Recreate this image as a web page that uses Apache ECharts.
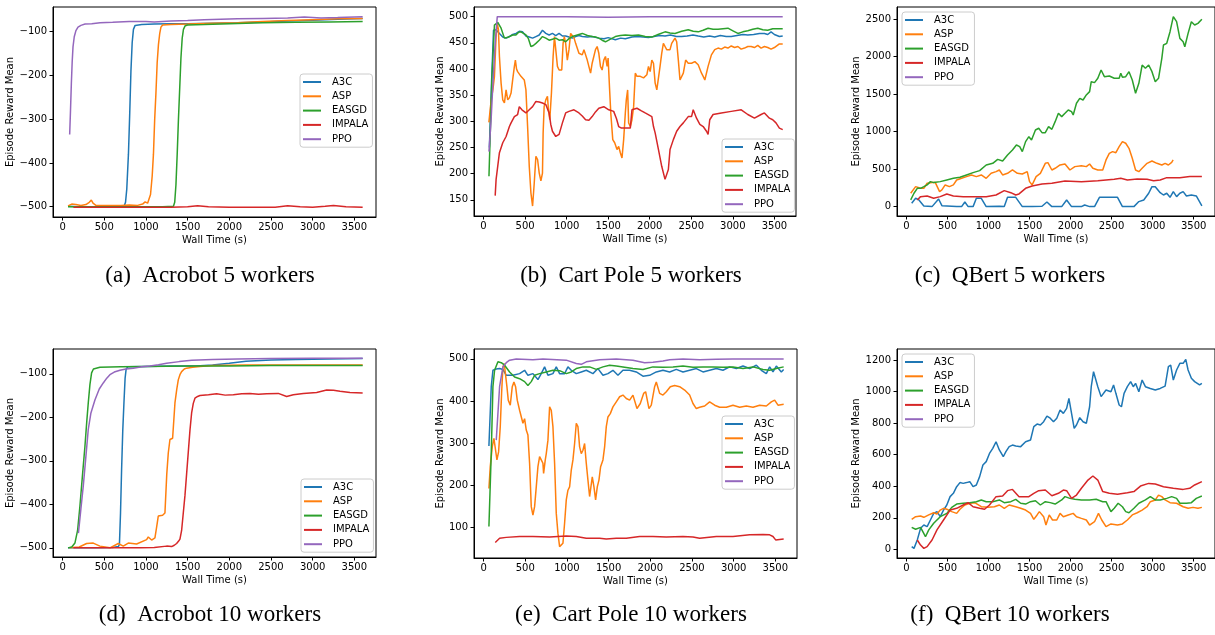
<!DOCTYPE html>
<html>
<head>
<meta charset="utf-8">
<script src="https://cdn.jsdelivr.net/npm/echarts@6/dist/echarts.min.js"></script>
<style>
  html, body { margin: 0; padding: 0; background: #fff; }
  #chart { width: 1215px; height: 635px; }
</style>
</head>
<body>
<div id="chart"></div>
<script>
// series names + matplotlib tab10 colours
const algoNames = ['A3C', 'ASP', 'EASGD', 'IMPALA', 'PPO'];
const algoColors = ['#1f77b4', '#ff7f0e', '#2ca02c', '#d62728', '#9467bd'];

// tick labels
const xTicks = [0, 500, 1000, 1500, 2000, 2500, 3000, 3500];
const acrobotTicks = [-500, -400, -300, -200, -100];
const cartPole5Ticks = [150, 200, 250, 300, 350, 400, 450, 500];
const cartPole10Ticks = [100, 200, 300, 400, 500];
const qbert5Ticks = [0, 500, 1000, 1500, 2000, 2500];
const qbert10Ticks = [0, 200, 400, 600, 800, 1000, 1200];

// (a) Acrobot 5 workers  [wall time, reward]
const acrobot5A3C = [[65,-499],[200,-500],[400,-500],[600,-499],[740,-498],[755,-490],[770,-460],[790,-380],[805,-290],[820,-190],[835,-125],[850,-95],[870,-86],[950,-84],[1100,-83],[1300,-82],[1500,-82],[1800,-81],[2100,-80],[2400,-78],[2700,-76],[3000,-74],[3300,-72],[3600,-70]];
const acrobot5ASP = [[65,-498],[110,-494],[160,-495],[220,-497],[280,-495],[320,-490],[345,-485],[365,-492],[400,-497],[500,-497],[600,-497],[700,-497],[800,-496],[900,-497],[960,-494],[990,-489],[1020,-492],[1040,-490],[1055,-472],[1075,-430],[1090,-380],[1105,-300],[1120,-240],[1135,-170],[1150,-130],[1165,-105],[1180,-90],[1200,-85],[1300,-84],[1500,-83],[1800,-81],[2100,-80],[2400,-77],[2700,-75],[3000,-73],[3300,-71],[3600,-70]];
const acrobot5EASGD = [[65,-500],[300,-500],[600,-500],[900,-500],[1200,-500],[1330,-499],[1345,-490],[1360,-450],[1375,-380],[1390,-300],[1405,-230],[1420,-160],[1435,-115],[1450,-95],[1470,-87],[1500,-85],[1700,-84],[2000,-82],[2400,-80],[2800,-79],[3200,-78],[3600,-77]];
const acrobot5IMPALA = [[130,-501],[400,-501],[700,-501],[1000,-501],[1300,-501],[1500,-500],[1620,-498],[1750,-500],[2000,-501],[2300,-501],[2550,-501],[2700,-498],[2850,-500],[3000,-501],[3150,-499],[3250,-497],[3400,-500],[3600,-501]];
const acrobot5PPO = [[85,-335],[95,-280],[105,-220],[115,-170],[125,-135],[140,-112],[160,-98],[185,-90],[220,-86],[270,-83],[350,-82],[450,-80],[600,-79],[800,-77],[1000,-77],[1100,-78],[1300,-76],[1500,-75],[1700,-73],[1900,-72],[2100,-71],[2400,-70],[2700,-69],[2900,-67],[3100,-69],[3300,-68],[3600,-66]];

// (b) Cart Pole 5 workers
const cartPole5A3C = [[70,250],[95,370],[120,474],[151,475],[191,468],[231,461],[271,459],[311,462],[351,466],[391,468],[430,472],[470,471],[510,463],[550,461],[590,459],[630,462],[670,465],[709,474],[749,468],[789,465],[829,468],[869,464],[909,468],[949,463],[988,463],[1028,461],[1068,459],[1108,462],[1148,464],[1188,462],[1250,461],[1307,462],[1387,459],[1450,458],[1500,460],[1586,456],[1650,459],[1706,458],[1786,461],[1850,462],[1920,461],[1985,460],[2050,462],[2120,464],[2184,463],[2250,465],[2320,462],[2384,462],[2450,463],[2520,465],[2583,463],[2650,461],[2720,463],[2782,461],[2850,464],[2920,462],[2981,462],[3050,464],[3120,466],[3180,465],[3250,466],[3320,468],[3380,468],[3420,466],[3460,471],[3500,466],[3560,462],[3600,463]];
const cartPole5ASP = [[64,298],[92,341],[112,360],[131,386],[151,462],[163,489],[179,475],[191,424],[211,373],[231,341],[251,335],[271,360],[291,341],[311,345],[331,354],[351,380],[371,405],[383,417],[397,400],[410,395],[430,392],[450,386],[470,383],[490,379],[510,360],[530,290],[550,214],[570,163],[590,138],[610,182],[630,233],[650,227],[670,201],[690,186],[709,201],[717,278],[729,328],[749,341],[769,348],[781,322],[797,303],[817,354],[837,424],[853,462],[869,437],[889,405],[909,398],[941,398],[957,449],[972,462],[988,449],[1008,417],[1028,437],[1048,468],[1068,471],[1088,460],[1108,449],[1148,430],[1188,427],[1208,437],[1248,417],[1288,392],[1307,411],[1347,437],[1367,443],[1387,430],[1407,405],[1427,398],[1447,417],[1467,424],[1487,405],[1499,421],[1515,367],[1531,316],[1555,265],[1578,259],[1606,246],[1626,252],[1646,240],[1666,230],[1686,265],[1706,316],[1718,341],[1734,360],[1746,297],[1766,290],[1786,303],[1806,328],[1826,392],[1846,386],[1886,386],[1925,383],[1965,389],[1985,405],[2005,395],[2025,417],[2045,411],[2065,373],[2085,360],[2105,360],[2124,405],[2144,430],[2164,449],[2184,443],[2204,437],[2244,437],[2264,449],[2304,459],[2324,452],[2344,417],[2364,379],[2384,379],[2404,392],[2432,417],[2463,411],[2503,411],[2543,414],[2583,408],[2603,405],[2623,392],[2643,386],[2663,379],[2702,405],[2742,427],[2782,437],[2822,440],[2862,438],[2902,442],[2941,440],[2981,444],[3021,441],[3061,443],[3100,438],[3140,440],[3180,443],[3220,443],[3260,441],[3300,445],[3340,440],[3380,443],[3420,441],[3460,438],[3500,441],[3519,443],[3560,448],[3600,448]];
const cartPole5EASGD = [[65,195],[72,195],[100,380],[131,484],[171,489],[211,478],[251,459],[281,460],[311,462],[350,465],[390,465],[420,470],[450,471],[480,468],[510,465],[540,458],[570,443],[600,445],[630,449],[670,455],[709,462],[749,459],[789,455],[829,457],[869,459],[909,455],[949,456],[988,452],[1028,458],[1068,462],[1128,465],[1188,468],[1250,464],[1307,462],[1347,461],[1387,459],[1427,455],[1467,452],[1527,457],[1586,462],[1646,464],[1706,465],[1786,464],[1865,465],[1945,462],[2025,461],[2100,466],[2184,471],[2244,469],[2304,468],[2384,472],[2463,475],[2523,472],[2583,471],[2642,474],[2702,478],[2762,476],[2822,476],[2882,477],[2941,478],[3001,473],[3061,468],[3120,471],[3180,473],[3240,476],[3300,478],[3360,475],[3420,474],[3480,477],[3560,477],[3600,477]];
const cartPole5IMPALA = [[140,158],[151,189],[191,240],[231,259],[271,271],[311,290],[331,297],[371,309],[410,313],[430,328],[462,322],[510,316],[550,322],[590,328],[630,338],[670,337],[709,335],[749,332],[789,316],[809,294],[829,281],[869,271],[909,275],[949,297],[988,316],[1028,319],[1088,322],[1148,316],[1188,310],[1228,303],[1268,302],[1307,309],[1347,318],[1387,325],[1447,328],[1507,322],[1566,319],[1600,305],[1626,290],[1660,287],[1706,287],[1766,287],[1786,322],[1846,325],[1900,320],[1945,316],[2025,309],[2045,290],[2065,278],[2105,246],[2144,214],[2184,189],[2204,186],[2224,208],[2244,246],[2284,265],[2324,281],[2364,290],[2404,297],[2463,309],[2503,309],[2523,322],[2543,325],[2563,306],[2603,294],[2643,290],[2683,281],[2702,275],[2722,303],[2762,313],[2862,316],[2981,319],[3101,322],[3180,313],[3260,306],[3340,313],[3380,316],[3440,306],[3480,303],[3519,297],[3560,287],[3600,284]];
const cartPole5PPO = [[65,242],[90,300],[115,380],[140,450],[165,500],[400,500],[1000,500],[1500,499],[2000,500],[3000,500],[3600,500]];

// (c) QBert 5 workers
const qbert5A3C = [[64,44],[112,111],[152,89],[212,9],[312,0],[392,102],[432,13],[492,9],[612,0],[672,0],[712,62],[752,0],[812,0],[852,111],[912,111],[972,0],[1132,5],[1192,0],[1232,124],[1332,124],[1412,0],[1532,0],[1652,5],[1712,62],[1772,0],[1892,0],[1952,89],[2012,0],[2132,0],[2172,22],[2232,0],[2292,0],[2352,124],[2572,124],[2632,0],[2772,0],[2832,67],[2892,89],[2952,178],[2992,266],[3032,266],[3092,186],[3132,155],[3172,178],[3212,124],[3252,200],[3292,133],[3332,178],[3372,200],[3412,142],[3472,155],[3532,142],[3600,9]];
const qbert5ASP = [[52,178],[112,266],[172,244],[212,244],[252,311],[312,320],[352,320],[404,200],[432,222],[472,289],[524,266],[572,289],[612,355],[672,377],[732,400],[792,422],[852,400],[912,422],[972,377],[1032,444],[1092,466],[1132,488],[1172,422],[1232,444],[1292,488],[1352,444],[1412,435],[1472,466],[1500,333],[1532,289],[1552,266],[1580,400],[1632,444],[1692,577],[1724,586],[1772,488],[1812,511],[1872,555],[1932,568],[1992,488],[2052,533],[2132,546],[2192,533],[2232,568],[2272,511],[2332,488],[2392,488],[2432,622],[2472,710],[2512,733],[2552,719],[2592,799],[2632,866],[2672,844],[2712,777],[2752,644],[2792,488],[2832,466],[2872,511],[2932,577],[2992,608],[3052,577],[3112,555],[3152,577],[3192,555],[3232,590],[3250,622]];
const qbert5EASGD = [[52,89],[92,178],[132,244],[172,244],[212,266],[252,289],[292,333],[332,320],[412,333],[492,355],[572,377],[652,391],[732,422],[812,453],[892,480],[972,555],[1052,577],[1112,630],[1172,608],[1232,688],[1292,755],[1340,821],[1380,799],[1412,733],[1452,866],[1492,932],[1524,888],[1572,1021],[1612,1044],[1652,986],[1692,986],[1732,1066],[1772,1030],[1812,1132],[1852,1243],[1892,1199],[1932,1243],[1972,1288],[2012,1266],[2032,1221],[2072,1377],[2112,1443],[2152,1421],[2192,1488],[2232,1532],[2252,1665],[2292,1652],[2332,1710],[2372,1821],[2412,1732],[2472,1741],[2532,1710],[2592,1710],[2612,1776],[2632,1723],[2672,1732],[2712,1798],[2752,1687],[2792,1510],[2832,1643],[2872,1887],[2912,1843],[2952,1887],[2992,1798],[3032,1665],[3072,1710],[3112,1976],[3132,2154],[3172,2176],[3212,2331],[3252,2531],[3292,2464],[3332,2242],[3372,2198],[3392,2131],[3432,2309],[3472,2464],[3512,2420],[3552,2442],[3600,2496]];
const qbert5IMPALA = [[132,89],[172,133],[252,142],[332,111],[412,133],[492,169],[572,142],[692,133],[812,133],[972,133],[1092,155],[1192,213],[1272,186],[1332,155],[1372,169],[1452,244],[1532,275],[1652,302],[1772,311],[1932,342],[2132,333],[2332,346],[2532,364],[2612,377],[2692,355],[2812,368],[2932,364],[3012,346],[3092,355],[3172,386],[3332,386],[3452,400],[3600,400]];
const qbert5PPO = [];

// (d) Acrobot 10 workers
const acrobot10A3C = [[65,-500],[200,-500],[400,-500],[600,-499],[670,-497],[682,-492],[695,-420],[708,-320],[722,-230],[736,-167],[750,-110],[762,-90],[780,-84],[1000,-83],[1300,-82],[1600,-82],[1800,-80],[2000,-76],[2200,-71],[2500,-68],[2800,-67],[3200,-66],[3600,-65]];
const acrobot10ASP = [[80,-500],[200,-498],[288,-490],[368,-489],[448,-496],[568,-500],[668,-490],[728,-496],[788,-489],[888,-491],[1008,-481],[1028,-475],[1068,-482],[1108,-477],[1130,-450],[1148,-427],[1168,-423],[1200,-425],[1228,-420],[1250,-330],[1268,-282],[1288,-251],[1320,-248],[1348,-167],[1370,-135],[1388,-114],[1408,-102],[1428,-95],[1460,-89],[1488,-87],[1560,-85],[1648,-83],[1800,-81],[2200,-80],[2600,-80],[3000,-80],[3600,-80]];
const acrobot10EASGD = [[65,-500],[110,-498],[148,-489],[180,-460],[208,-404],[240,-330],[268,-267],[290,-210],[308,-167],[328,-125],[348,-98],[370,-89],[388,-87],[448,-85],[700,-84],[1000,-83],[1500,-82],[2000,-82],[2500,-81],[3000,-81],[3600,-81]];
const acrobot10IMPALA = [[130,-500],[400,-500],[700,-500],[928,-500],[1100,-499],[1248,-496],[1308,-497],[1340,-494],[1368,-490],[1390,-485],[1408,-480],[1428,-460],[1448,-420],[1468,-380],[1488,-330],[1508,-280],[1528,-230],[1548,-190],[1568,-168],[1588,-156],[1620,-152],[1648,-150],[1750,-148],[1848,-146],[1950,-149],[2048,-148],[2150,-146],[2248,-145],[2350,-147],[2448,-146],[2588,-145],[2688,-152],[2768,-148],[2888,-145],[3048,-143],[3168,-137],[3250,-138],[3328,-140],[3448,-143],[3600,-144]];
const acrobot10PPO = [[190,-466],[220,-410],[248,-358],[275,-300],[308,-228],[340,-190],[388,-160],[440,-135],[488,-121],[530,-110],[568,-102],[620,-96],[688,-92],[760,-89],[848,-87],[950,-84],[1048,-82],[1150,-79],[1248,-76],[1400,-72],[1550,-69],[1800,-67],[2100,-66],[2500,-65],[3000,-64],[3600,-64]];

// (e) Cart Pole 10 workers
const cartPole10A3C = [[64,293],[92,434],[112,473],[152,476],[192,477],[232,475],[272,461],[352,461],[432,465],[492,473],[532,461],[592,465],[652,451],[692,465],[732,481],[772,461],[832,465],[872,481],[912,465],[972,465],[1012,481],[1052,473],[1112,465],[1172,469],[1232,473],[1312,465],[1372,477],[1432,461],[1492,465],[1552,473],[1612,461],[1672,473],[1752,473],[1832,469],[1912,459],[1992,461],[2072,469],[2152,473],[2232,469],[2312,475],[2392,469],[2472,473],[2552,477],[2632,469],[2712,473],[2792,477],[2872,473],[2952,481],[3032,477],[3112,483],[3192,477],[3272,485],[3332,473],[3392,465],[3432,481],[3472,469],[3512,483],[3572,469],[3600,475]];
const cartPole10ASP = [[64,192],[80,244],[104,291],[124,311],[144,283],[160,260],[180,279],[200,339],[216,418],[232,481],[248,489],[264,485],[280,434],[296,402],[320,390],[344,434],[364,445],[384,434],[404,402],[432,378],[452,374],[472,347],[492,358],[512,331],[532,319],[552,252],[572,149],[592,129],[612,149],[632,196],[652,244],[672,268],[692,260],[712,252],[720,228],[740,260],[752,275],[772,307],[792,386],[812,378],[832,339],[852,252],[872,133],[892,86],[912,54],[932,50],[952,62],[972,110],[992,165],[1012,188],[1032,196],[1052,236],[1072,260],[1092,299],[1112,347],[1132,339],[1152,291],[1172,275],[1192,283],[1212,299],[1232,252],[1252,212],[1272,173],[1304,220],[1324,196],[1344,165],[1364,196],[1384,212],[1404,244],[1432,260],[1452,291],[1472,339],[1492,362],[1520,370],[1552,386],[1592,398],[1632,410],[1672,414],[1712,406],[1752,402],[1792,414],[1840,382],[1880,394],[1920,418],[1944,422],[1984,382],[2012,390],[2052,434],[2072,445],[2112,418],[2152,414],[2192,422],[2240,434],[2292,437],[2352,434],[2412,426],[2472,414],[2512,394],[2552,382],[2592,385],[2652,388],[2712,398],[2772,390],[2832,385],[2912,385],[2992,390],[3072,385],[3152,388],[3232,385],[3312,390],[3392,388],[3452,398],[3492,402],[3532,390],[3600,392]];
const cartPole10EASGD = [[64,102],[92,276],[112,434],[132,473],[172,493],[212,491],[252,485],[312,469],[372,457],[432,453],[492,446],[532,437],[572,446],[612,461],[672,465],[752,469],[832,473],[912,472],[992,465],[1052,469],[1112,477],[1192,481],[1272,481],[1352,475],[1432,481],[1512,485],[1592,483],[1672,481],[1792,477],[1912,475],[2032,481],[2152,480],[2272,481],[2392,483],[2512,480],[2632,481],[2752,481],[2872,480],[2992,481],[3112,477],[3232,481],[3352,475],[3432,473],[3512,477],[3600,481]];
const cartPole10IMPALA = [[140,64],[192,74],[272,76],[432,78],[592,78],[792,77],[992,79],[1112,78],[1232,74],[1392,74],[1472,72],[1592,74],[1712,74],[1872,78],[2032,78],[2192,77],[2392,78],[2512,77],[2592,74],[2792,78],[2992,78],[3192,82],[3352,83],[3432,82],[3472,78],[3504,70],[3600,72]];
const cartPole10PPO = [[152,307],[192,434],[232,481],[272,491],[312,497],[392,500],[592,498],[712,500],[992,497],[1112,489],[1172,487],[1232,493],[1392,498],[1592,500],[1792,497],[1932,491],[2032,492],[2152,495],[2232,498],[2392,500],[2592,498],[2792,499],[2992,500],[3600,500]];

// (f) QBert 10 workers
const qbert10A3C = [[64,17],[92,6],[132,59],[172,133],[212,154],[252,144],[292,186],[332,228],[372,239],[412,207],[452,249],[492,281],[532,334],[572,355],[612,397],[652,423],[692,418],[732,423],[772,429],[812,397],[852,408],[892,461],[932,535],[972,556],[1012,608],[1052,640],[1092,682],[1132,630],[1180,587],[1212,619],[1252,651],[1292,661],[1332,655],[1392,651],[1452,682],[1512,693],[1552,778],[1592,794],[1632,788],[1672,809],[1712,845],[1752,831],[1792,809],[1832,831],[1872,883],[1912,862],[1952,894],[1980,957],[2012,862],[2044,767],[2072,788],[2112,835],[2152,809],[2192,799],[2232,904],[2252,1031],[2280,1126],[2304,1116],[2332,1031],[2372,968],[2432,1010],[2492,999],[2524,1042],[2552,989],[2592,915],[2620,904],[2652,989],[2692,1031],[2732,1063],[2764,1031],[2792,1052],[2832,999],[2872,1073],[2912,1031],[2972,1020],[3032,1010],[3092,1020],[3152,1035],[3192,1158],[3220,1168],[3252,1073],[3292,1137],[3332,1179],[3372,1179],[3404,1204],[3432,1137],[3472,1084],[3512,1063],[3572,1042],[3600,1052]];
const qbert10ASP = [[64,190],[112,207],[172,211],[212,203],[272,218],[332,232],[372,224],[412,249],[452,260],[492,254],[552,239],[612,228],[652,254],[712,281],[772,292],[832,296],[912,270],[992,266],[1072,270],[1132,281],[1192,260],[1252,281],[1332,270],[1392,260],[1452,249],[1512,228],[1552,190],[1592,218],[1620,239],[1672,207],[1700,154],[1740,218],[1780,186],[1832,186],[1872,228],[1912,207],[1972,218],[2032,228],[2072,207],[2132,196],[2192,186],[2232,154],[2252,144],[2292,175],[2340,228],[2380,186],[2432,144],[2492,161],[2572,154],[2632,161],[2692,186],[2752,218],[2812,232],[2872,249],[2932,270],[2972,302],[3032,313],[3072,344],[3112,334],[3152,313],[3212,296],[3292,292],[3372,270],[3432,260],[3492,266],[3552,260],[3600,266]];
const qbert10EASGD = [[64,139],[112,127],[172,139],[232,80],[272,123],[332,165],[412,207],[492,228],[552,266],[612,287],[692,292],[772,296],[852,302],[912,313],[972,302],[1052,302],[1132,313],[1192,296],[1272,302],[1332,317],[1392,292],[1452,287],[1512,302],[1572,308],[1632,281],[1692,302],[1752,296],[1812,287],[1892,313],[1932,334],[1992,323],[2052,317],[2132,313],[2232,313],[2312,317],[2392,302],[2432,302],[2472,260],[2492,239],[2532,260],[2580,292],[2632,270],[2672,239],[2712,232],[2772,260],[2832,292],[2912,313],[2972,334],[3032,313],[3092,313],[3172,323],[3232,334],[3292,323],[3332,292],[3412,292],[3472,296],[3532,323],[3600,338]];
const qbert10IMPALA = [[132,59],[172,27],[212,6],[252,17],[312,59],[372,123],[452,186],[532,249],[612,260],[692,281],[752,296],[812,270],[892,260],[952,254],[1012,281],[1092,334],[1172,338],[1232,372],[1292,380],[1372,334],[1492,334],[1552,355],[1612,372],[1692,376],[1772,340],[1852,355],[1912,376],[1952,372],[2012,323],[2072,344],[2132,387],[2212,439],[2272,465],[2332,439],[2392,366],[2472,355],[2572,349],[2692,359],[2772,366],[2852,401],[2952,418],[3032,414],[3132,397],[3252,387],[3372,380],[3452,387],[3512,408],[3600,429]];
const qbert10PPO = [];

const panels = [
  { caption: '(a)  Acrobot 5 workers', grid: [53, 7, 323, 210], yRange: [-523.5, -44], yTicks: acrobotTicks, legendPos: [300, 74], capPos: [210, 276], yNameGap: 35,
    data: [acrobot5A3C, acrobot5ASP, acrobot5EASGD, acrobot5IMPALA, acrobot5PPO] },
  { caption: '(b)  Cart Pole 5 workers', grid: [474, 7, 322, 209], yRange: [119, 518.5], yTicks: cartPole5Ticks, legendPos: [722, 139], capPos: [631, 276], yNameGap: 27,
    data: [cartPole5A3C, cartPole5ASP, cartPole5EASGD, cartPole5IMPALA, cartPole5PPO] },
  { caption: '(c)  QBert 5 workers', grid: [897, 7, 322, 209], yRange: [-125, 2660], yTicks: qbert5Ticks, legendPos: [902, 12], capPos: [1010, 276], yNameGap: 35,
    data: [qbert5A3C, qbert5ASP, qbert5EASGD, qbert5IMPALA, qbert5PPO] },
  { caption: '(d)  Acrobot 10 workers', grid: [53, 349, 323, 208], yRange: [-521, -43], yTicks: acrobotTicks, legendPos: [301, 479], capPos: [210, 615], yNameGap: 35,
    data: [acrobot10A3C, acrobot10ASP, acrobot10EASGD, acrobot10IMPALA, acrobot10PPO] },
  { caption: '(e)  Cart Pole 10 workers', grid: [474, 349, 323, 209], yRange: [27, 523.5], yTicks: cartPole10Ticks, legendPos: [722, 416], capPos: [631, 615], yNameGap: 27,
    data: [cartPole10A3C, cartPole10ASP, cartPole10EASGD, cartPole10IMPALA, cartPole10PPO] },
  { caption: '(f)  QBert 10 workers', grid: [897, 349, 322, 209], yRange: [-55, 1270], yTicks: qbert10Ticks, legendPos: [902, 354], capPos: [1010, 615], yNameGap: 35,
    data: [qbert10A3C, qbert10ASP, qbert10EASGD, qbert10IMPALA, qbert10PPO] }
];

const tickFont = { fontFamily: 'DejaVu Sans', fontSize: 10, color: '#000' };
const fmtMinus = v => (v < 0 ? '\u2212' + Math.abs(v) : String(v));

let grids = [], xAxes = [], yAxes = [], series = [], legends = [], graphics = [];

panels.forEach((p, i) => {
  grids.push({
    left: p.grid[0], top: p.grid[1], width: p.grid[2], height: p.grid[3],
    show: true, borderColor: '#000', borderWidth: 1, backgroundColor: 'transparent',
    containLabel: false
  });
  xAxes.push({
    type: 'value', gridIndex: i, min: -115, max: 3760,
    name: 'Wall Time (s)', nameLocation: 'middle', nameGap: 18,
    nameTextStyle: { fontFamily: 'DejaVu Sans', fontSize: 10, color: '#000' },
    axisLine: { show: true, onZero: false, lineStyle: { color: '#000', width: 1 } },
    axisTick: { show: true, length: 3.5, lineStyle: { color: '#000' }, customValues: xTicks },
    axisLabel: Object.assign({ margin: 5, customValues: xTicks, formatter: fmtMinus }, tickFont),
    splitLine: { show: false }
  });
  yAxes.push({
    type: 'value', gridIndex: i, min: p.yRange[0], max: p.yRange[1],
    name: 'Episode Reward Mean', nameLocation: 'middle', nameGap: p.yNameGap,
    nameTextStyle: { fontFamily: 'DejaVu Sans', fontSize: 10, color: '#000' },
    axisLine: { show: true, onZero: false, lineStyle: { color: '#000', width: 1 } },
    axisTick: { show: true, length: 3.5, lineStyle: { color: '#000' }, customValues: p.yTicks },
    axisLabel: Object.assign({ margin: 6, customValues: p.yTicks, formatter: fmtMinus }, tickFont),
    splitLine: { show: false }
  });
  p.data.forEach((d, k) => {
    series.push({
      name: algoNames[k], type: 'line', xAxisIndex: i, yAxisIndex: i,
      data: d, symbol: 'none', smooth: false, animation: false,
      color: algoColors[k],
      lineStyle: { color: algoColors[k], width: 1.5 },
      itemStyle: { color: algoColors[k] }
    });
  });
  legends.push({
    orient: 'vertical', left: p.legendPos[0], top: p.legendPos[1],
    data: algoNames, icon: 'rect', itemWidth: 18, itemHeight: 2, itemGap: 2.3,
    padding: [2, 4, 2, 3],
    borderColor: '#cccccc', borderWidth: 1, borderRadius: 3,
    backgroundColor: 'rgba(255,255,255,0.85)',
    selectedMode: false,
    textStyle: { fontFamily: 'DejaVu Sans', fontSize: 10, color: '#000', lineHeight: 12, padding: [0, 0, 0, 6] }
  });
  graphics.push({
    type: 'text', x: p.capPos[0], y: p.capPos[1],
    style: {
      text: p.caption, fill: '#000', fontFamily: 'Liberation Serif', fontSize: 23,
      align: 'center', verticalAlign: 'middle'
    }
  });
});

const chart = echarts.init(document.getElementById('chart'));
chart.setOption({
  animation: false,
  backgroundColor: '#fff',
  grid: grids,
  xAxis: xAxes,
  yAxis: yAxes,
  legend: legends,
  series: series,
  graphic: graphics
});
</script>
</body>
</html>
